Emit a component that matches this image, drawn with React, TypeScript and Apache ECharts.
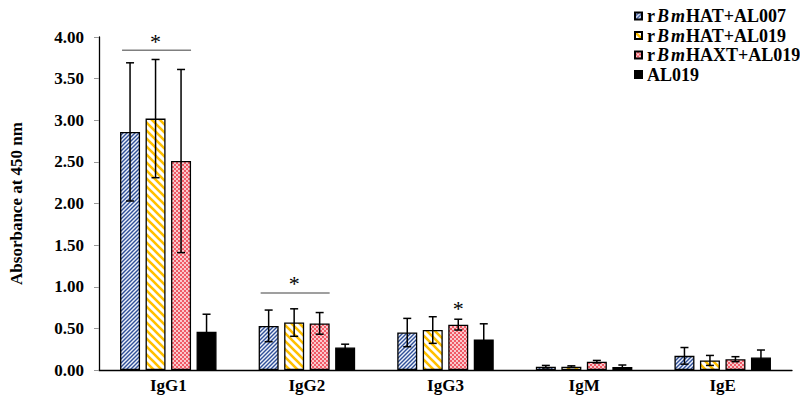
import React, { useEffect, useRef } from "react";
import * as echarts from "echarts";

const categories = ["IgG1", "IgG2", "IgG3", "IgM", "IgE"];
const seriesNames = ["rBmHAT+AL007", "rBmHAT+AL019", "rBmHAXT+AL019", "AL019"];
const hatAl007 = [2.86, 0.53, 0.45, 0.04, 0.17];
const hatAl007Err = [0.83, 0.19, 0.17, 0.015, 0.1];
const hatAl019 = [3.02, 0.57, 0.48, 0.04, 0.115];
const hatAl019Err = [0.71, 0.165, 0.16, 0.01, 0.06];
const haxtAl019 = [2.51, 0.56, 0.545, 0.1, 0.13];
const haxtAl019Err = [1.1, 0.13, 0.065, 0.015, 0.03];
const al019 = [0.46, 0.27, 0.365, 0.035, 0.15];
const al019Err = [0.21, 0.04, 0.19, 0.025, 0.09];
const yTicks = [0, 0.5, 1, 1.5, 2, 2.5, 3, 3.5, 4];
// significance marks: category, first bar, last bar, y value, has bracket line
const sigCats = [0, 1, 2];
const sigFrom = [0, 0, 2];
const sigTo = [2, 2, 2];
const sigY = [3.84, 0.925, 0.76];
const sigLine = [1, 1, 0];

const FONT = "'Liberation Serif', 'Times New Roman', serif";
const BAR_W = 20;
const BAR_STEP = 25.5;

function svgUrl(svg: string) {
  return "data:image/svg+xml;charset=utf-8," + encodeURIComponent(svg);
}

const bluePattern = {
  image: svgUrl(
    `<svg xmlns="http://www.w3.org/2000/svg" width="4" height="4"><rect width="4" height="4" fill="#eef2fa"/><path d="M-1,1 L1,-1 M0,4 L4,0 M3,5 L5,3" stroke="#2f4f98" stroke-width="1.4"/></svg>`
  ),
  imageWidth: 4,
  imageHeight: 4,
  repeat: "repeat",
};
const yellowPattern = {
  image: svgUrl(
    `<svg xmlns="http://www.w3.org/2000/svg" width="8" height="8"><rect width="8" height="8" fill="#ffffff"/><path d="M-2,6 L2,10 M0,0 L8,8 M6,-2 L10,2" stroke="#ffc000" stroke-width="2.6"/></svg>`
  ),
  imageWidth: 8,
  imageHeight: 8,
  repeat: "repeat",
};
const redPattern = {
  image: svgUrl(
    `<svg xmlns="http://www.w3.org/2000/svg" width="4" height="4"><rect width="4" height="4" fill="#f05a66"/><circle cx="1" cy="1" r="0.9" fill="#ffffff"/><circle cx="3" cy="3" r="0.9" fill="#ffffff"/></svg>`
  ),
  imageWidth: 4,
  imageHeight: 4,
  repeat: "repeat",
};

const values = [hatAl007, hatAl019, haxtAl019, al019];
const errors = [hatAl007Err, hatAl019Err, haxtAl019Err, al019Err];
const fills: any[] = [bluePattern, yellowPattern, redPattern, "#000000"];

export default function App() {
  const ref = useRef<HTMLDivElement>(null);
  useEffect(() => {
    document.body.style.margin = "0";
    if (!ref.current) return;
    const chart = echarts.init(ref.current, null, { renderer: "svg" });

    const barSeries = seriesNames.map((name, i) => ({
      name,
      type: "bar",
      data: values[i],
      barWidth: BAR_W,
      barGap: "27.5%",
      itemStyle: { color: fills[i], borderColor: "#000", borderWidth: 1.3 },
      z: 2,
    }));

    const errSeries = seriesNames.map((name, i) => ({
      type: "custom",
      name: name + "-err",
      z: 5,
      data: categories.map((_, c) => [c, values[i][c] - errors[i][c], values[i][c] + errors[i][c]]),
      renderItem: (params: any, api: any) => {
        const c = api.value(0);
        const pLo = api.coord([c, api.value(1)]);
        const pHi = api.coord([c, api.value(2)]);
        const x = pLo[0] + (i - 1.5) * BAR_STEP;
        const st = { stroke: "#000", lineWidth: 1.5 };
        return {
          type: "group",
          children: [
            { type: "line", shape: { x1: x, y1: pHi[1], x2: x, y2: pLo[1] }, style: st },
            { type: "line", shape: { x1: x - 4, y1: pHi[1], x2: x + 4, y2: pHi[1] }, style: st },
            { type: "line", shape: { x1: x - 4, y1: pLo[1], x2: x + 4, y2: pLo[1] }, style: st },
          ],
        };
      },
    }));

    const sigSeries = {
      type: "custom",
      name: "sig",
      z: 6,
      data: sigCats.map((c, k) => [c, sigFrom[k], sigTo[k], sigY[k], sigLine[k]]),
      renderItem: (params: any, api: any) => {
        const c = api.value(0);
        const p = api.coord([c, api.value(3)]);
        const x1 = p[0] + (api.value(1) - 1.5) * BAR_STEP - BAR_W / 2 + 2;
        const x2 = p[0] + (api.value(2) - 1.5) * BAR_STEP + BAR_W / 2;
        const hasLine = api.value(4) === 1;
        const children: any[] = [];
        if (hasLine) {
          children.push({
            type: "line",
            shape: { x1, y1: p[1], x2, y2: p[1] },
            style: { stroke: "#7f7f7f", lineWidth: 1.5 },
          });
        }
        const cx = (x1 + x2) / 2;
        children.push({
          type: "text",
          style: {
            text: "*",
            x: hasLine ? cx - 1 : p[0] + (api.value(1) - 1.5) * BAR_STEP,
            y: hasLine ? p[1] + 2 : p[1] + 13,
            align: "center",
            verticalAlign: "bottom",
            font: `22px ${FONT}`,
            fill: "#000",
          },
        });
        return { type: "group", children };
      },
    };

    const legendFormatter = (name: string) => {
      if (name.startsWith("rBm")) {
        return `{n|r}{b|B}{m|m}{n|${name.slice(3)}}`;
      }
      return `{n|${name}}`;
    };

    const base = { fontFamily: FONT, fontWeight: "bold", fontSize: 18, lineHeight: 15, color: "#000" };

    chart.setOption({
      animation: false,
      grid: { left: 94.5, right: 8, top: 37, bottom: 33 },
      legend: {
        data: seriesNames,
        orient: "vertical",
        left: 629,
        top: 2,
        itemWidth: 7,
        itemHeight: 7,
        itemGap: 1.5,
        icon: "rect",
        formatter: legendFormatter,
        textStyle: {
          rich: {
            n: base,
            b: { ...base, fontStyle: "italic", padding: [0, 2, 0, 2] },
            m: { ...base, fontStyle: "italic", padding: [0, 1, 0, 0] },
          },
        },
      },
      xAxis: {
        type: "category",
        data: categories,
        axisLine: { lineStyle: { color: "#000", width: 1.3 } },
        axisTick: { show: false },
        axisLabel: { fontFamily: FONT, fontWeight: "bold", fontSize: 17, color: "#000", margin: 7 },
      },
      yAxis: {
        type: "value",
        min: yTicks[0],
        max: yTicks[yTicks.length - 1],
        interval: 0.5,
        name: "Absorbance at 450 nm",
        nameLocation: "middle",
        nameGap: 74,
        nameTextStyle: { fontFamily: FONT, fontWeight: "bold", fontSize: 17, color: "#000" },
        axisLine: { show: true, lineStyle: { color: "#000", width: 1.3 } },
        axisTick: { show: true, length: 5, lineStyle: { color: "#999" } },
        splitLine: { show: false },
        axisLabel: {
          fontFamily: FONT,
          fontWeight: "bold",
          fontSize: 17,
          color: "#000",
          margin: 15,
          formatter: (v: number) => v.toFixed(2),
        },
      },
      series: [...barSeries, ...errSeries, sigSeries],
    });
    return () => chart.dispose();
  }, []);
  return <div ref={ref} style={{ width: 800, height: 403 }} />;
}
